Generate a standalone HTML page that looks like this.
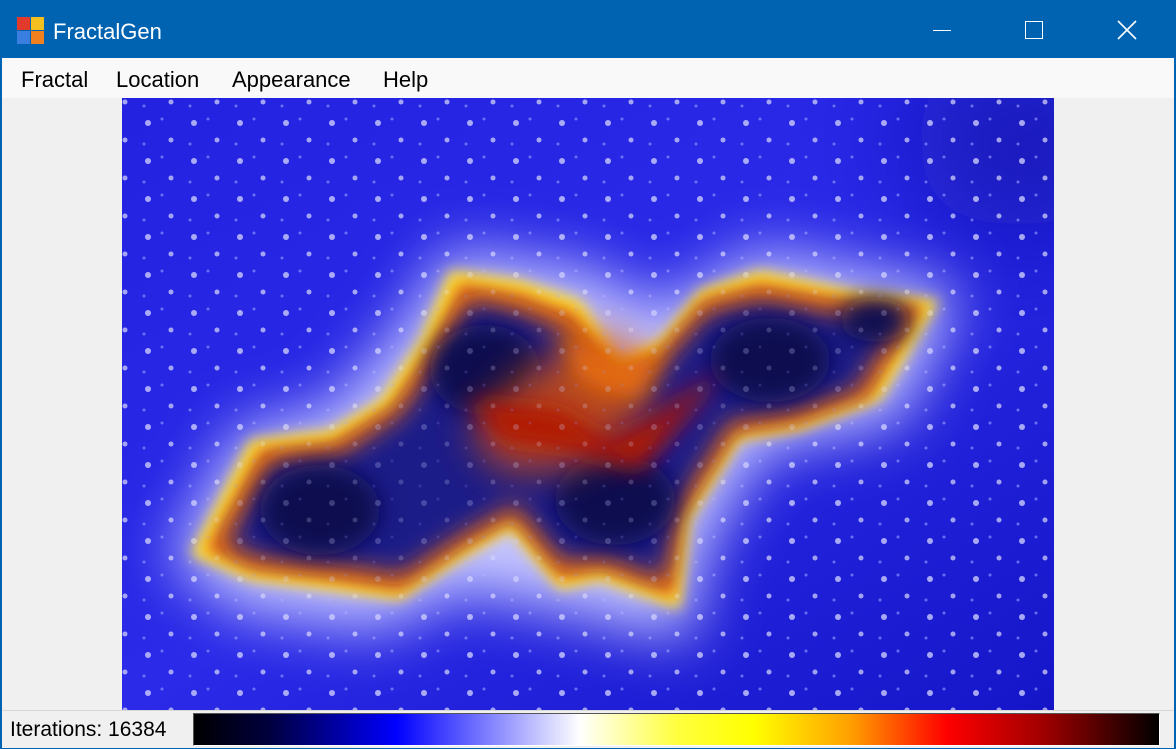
<!DOCTYPE html>
<html><head><meta charset="utf-8"><style>
html,body{margin:0;padding:0;}
body{width:1176px;height:749px;overflow:hidden;background:#0063b1;font-family:"Liberation Sans",sans-serif;position:relative;}
#client{position:absolute;left:2px;top:58px;width:1172px;height:689px;background:#f0f0f0;}
#title{position:absolute;left:0;top:0;width:1176px;height:58px;color:#fff;}
#menu{position:absolute;left:2px;top:58px;width:1172px;height:40px;background:#f9f9f9;}
.mi{position:absolute;top:9px;font-size:22px;color:#000;}
#status{position:absolute;left:2px;top:710px;width:1172px;height:37px;background:#f0f0f0;border-top:1px solid #d8d8d8;}
</style></head><body>
<div id="client"></div>
<div id="title">
 <div style="position:absolute;left:17px;top:17px;width:28px;height:28px;">
  <div style="position:absolute;left:0;top:0;width:13px;height:13px;background:#e23a2a;"></div>
  <div style="position:absolute;left:14px;top:0;width:13px;height:13px;background:#f4c020;"></div>
  <div style="position:absolute;left:0;top:14px;width:13px;height:13px;background:#3a7fe0;"></div>
  <div style="position:absolute;left:14px;top:14px;width:13px;height:13px;background:#f08020;"></div>
 </div>
 <div style="position:absolute;left:53px;top:19px;font-size:22px;">FractalGen</div>
 <div style="position:absolute;left:933px;top:30px;width:18px;height:1px;background:#fff;"></div>
 <div style="position:absolute;left:1025px;top:21px;width:18px;height:18px;border:1.5px solid #fff;box-sizing:border-box;"></div>
 <svg style="position:absolute;left:1117px;top:20px" width="20" height="20"><path d="M1 1L19 19M19 1L1 19" stroke="#fff" stroke-width="1.6"/></svg>
</div>
<div id="menu">
 <span class="mi" style="left:19px">Fractal</span>
 <span class="mi" style="left:114px">Location</span>
 <span class="mi" style="left:230px">Appearance</span>
 <span class="mi" style="left:381px">Help</span>
</div>
<svg style="position:absolute;left:122px;top:98px" width="932" height="612" viewBox="122 98 932 612">
 <defs>
  <filter id="b30" x="-50%" y="-50%" width="200%" height="200%"><feGaussianBlur stdDeviation="30"/></filter>
  <filter id="b12" x="-50%" y="-50%" width="200%" height="200%"><feGaussianBlur stdDeviation="12"/></filter>
  <filter id="b20" x="-50%" y="-50%" width="200%" height="200%"><feGaussianBlur stdDeviation="20"/></filter>
  <filter id="b8" x="-50%" y="-50%" width="200%" height="200%"><feGaussianBlur stdDeviation="7"/></filter>
  <filter id="b60" x="-50%" y="-50%" width="200%" height="200%"><feGaussianBlur stdDeviation="60"/></filter>
  <linearGradient id="bg" x1="0" y1="0" x2="1" y2="1"><stop offset="0" stop-color="#2222e0"/><stop offset="0.5" stop-color="#2a2ae8"/><stop offset="1" stop-color="#1515c8"/></linearGradient>
  <pattern id="speck" width="46" height="38" patternUnits="userSpaceOnUse">
   <circle cx="10" cy="9" r="3" fill="#d0d0ff" opacity="0.7"/><circle cx="33" cy="26" r="2.5" fill="#e0e0ff" opacity="0.6"/><circle cx="24" cy="5" r="1.5" fill="#9090ff" opacity="0.6"/><circle cx="6" cy="30" r="1.5" fill="#9090ff" opacity="0.6"/>
  </pattern>
 </defs>
 <rect x="122" y="98" width="932" height="612" fill="url(#bg)"/>
 <ellipse cx="1020" cy="140" rx="110" ry="90" fill="#0808a0" opacity="0.7" filter="url(#b60)"/>
 <rect x="122" y="98" width="932" height="612" fill="url(#speck)"/>
 <path d="M170,560 L240,430 L330,410 L400,330 L450,250 L590,270 L660,310 L760,250 L960,290 L900,420 L760,450 L700,560 L690,640 L560,610 L460,590 L380,630 L240,610 Z" fill="#c8c8ff" filter="url(#b30)"/>
 <path d="M190,555 L250,440 L330,430 L380,400 L420,340 L450,270 L520,280 L580,300 L620,360 L660,340 L700,290 L760,270 L850,290 L940,300 L880,400 L800,430 L740,440 L690,520 L680,610 L600,580 L560,590 L510,530 L460,560 L400,600 L330,590 L250,580 Z" fill="#ffe030" filter="url(#b8)"/>
 <path d="M205,550 L260,448 L333,440 L390,405 L430,345 L460,282 L520,292 L575,312 L615,372 L657,352 L703,298 L760,282 L848,298 L925,305 L870,398 L798,425 L737,435 L684,517 L674,598 L602,572 L560,580 L512,522 L460,552 L400,592 L333,582 L252,572 Z" fill="#e86a10" filter="url(#b8)"/>
 <path d="M225,545 L272,462 L340,455 L400,415 L440,358 L470,300 L520,312 L565,330 L608,390 L655,372 L708,312 L762,300 L842,315 L900,315 L858,390 L792,412 L730,422 L676,510 L665,580 L605,558 L562,562 L515,505 L462,535 L402,575 L338,565 L260,558 Z" fill="#1e1e88" filter="url(#b12)"/>
 <ellipse cx="320" cy="510" rx="60" ry="45" fill="#0c0c50" filter="url(#b12)"/>
 <ellipse cx="485" cy="370" rx="55" ry="45" fill="#0c0c50" filter="url(#b12)"/>
 <ellipse cx="615" cy="500" rx="60" ry="45" fill="#0c0c50" filter="url(#b12)"/>
 <ellipse cx="770" cy="360" rx="60" ry="42" fill="#0c0c50" filter="url(#b12)"/>
 <ellipse cx="875" cy="320" rx="35" ry="22" fill="#0c0c50" filter="url(#b12)"/>
 <path d="M530,370 L600,330 L650,360 L640,430 L560,470 L500,470 L470,430 Z" fill="#d05010" opacity="0.85" filter="url(#b20)"/>
 <path d="M470,400 L560,410 L610,440 L650,420 L720,370 L700,400 L640,470 L570,450 L500,440 Z" fill="#b01800" filter="url(#b12)"/>
 <path d="M560,330 L620,370 L660,350 L640,400 L580,380 Z" fill="#e87010" filter="url(#b12)"/>
 <rect x="122" y="98" width="932" height="612" fill="url(#speck)" opacity="0.35"/>
</svg>
<div id="status">
 <div style="position:absolute;left:8px;top:7px;font-size:21px;color:#000;">Iterations: 16384</div>
 <div style="position:absolute;left:191px;top:2px;width:967px;height:33px;box-sizing:border-box;border:1px solid #fff;border-top-color:#555;border-left-color:#555;background:linear-gradient(to right,#000 0%,#000040 8%,#0000ff 21%,#ffffff 40%,#ffff40 50%,#ffff00 58%,#ffa000 68%,#ff0000 78%,#a00000 88%,#000 100%);"></div>
</div>
</body></html>
